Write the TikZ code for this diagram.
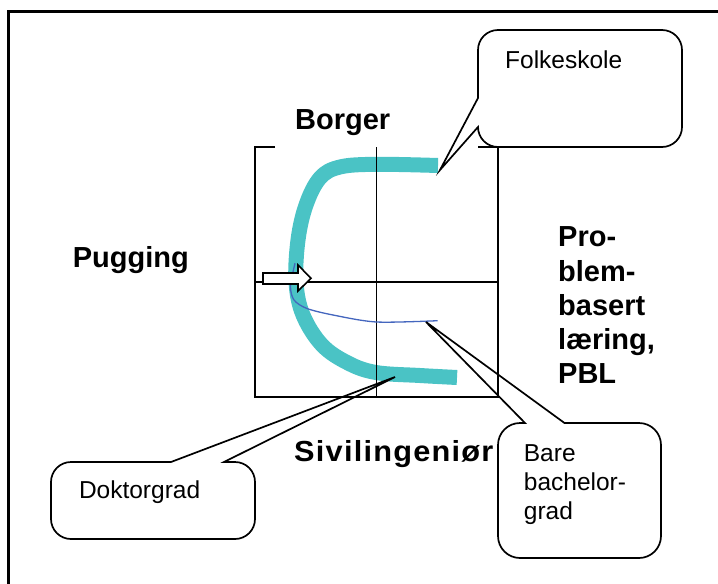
\documentclass[tikz,border=0pt]{standalone}
\usepackage{fontspec}
\setmainfont{Liberation Sans}
\definecolor{tealband}{RGB}{74,195,197}
\definecolor{thinblue}{RGB}{68,102,190}
\tikzset{
  grid line/.style={line width=1.9pt, black},
  balloon/.style={line width=1.7pt, black, line join=miter},
  big label/.style={font=\fontsize{29}{34.3}\selectfont\bfseries, inner sep=0pt, anchor=base west},
  small label/.style={font=\fontsize{24.5}{28.7}\selectfont, inner sep=0pt, anchor=base west},
}
\begin{document}
\begin{tikzpicture}[x=1pt,y=-1pt]
\useasboundingbox (0,0) rectangle (718,584);

% outer frame (only top and left edges fall inside the page)
\draw[line width=2.3pt] (8.5,584) -- (8.5,11.5) -- (718,11.5);

% thick teal band
\draw[tealband, line width=15pt, line cap=butt, line join=round]
  plot[smooth, tension=0.6] coordinates {(438,165.5) (376,164.3) (340,167) (320,178)
    (306,205) (298,240) (296,282) (303,315) (322,345) (348,363) (376,372.5)
    (420,375.5) (457,377.5)};

% quadrant box
\coordinate (q nw) at (255,147);
\coordinate (q ne) at (498,147);
\coordinate (q sw) at (255,397);
\coordinate (q se) at (498,397);
\draw[grid line] (275,147) -- (q nw) -- (q sw) -- (q se) -- (q ne) -- (478,147);
\draw[grid line] (376.5,147) -- (376.5,397);
\draw[grid line] (255,282) -- (498,282);

% thin blue curve
\draw[thinblue, line width=1.3pt]
  plot[smooth] coordinates {(295,263.3) (290.5,286) (294,300) (307,308.5)
    (333,315) (376.7,322) (437.7,320.7)};

% white block arrow
\draw[line width=1.6pt, fill=white, line join=miter]
  (263,273) -- (298,273) -- (298,265) -- (311,278.3) -- (298,291) -- (298,284)
  -- (263,284) -- cycle;

% axis labels (multi-line nodes are anchored on their last baseline)
\node[big label] (borger) at (295,129.3) {Borger};
\node[big label] (pugging) at (72.7,267) {Pugging};
\node[big label] (sivil) at (294,461)
  {\scalebox{1.06}[1]{\addfontfeature{LetterSpace=4}Sivilingeniør}};
\node[big label, align=left] (pbl) at (558,383.9) {Pro-\\blem-\\basert\\læring,\\PBL};

% callout: Folkeskole
\coordinate (folke tip) at (440,170);
\draw[balloon] (580,30) [rounded corners=20pt] -- (682,30) -- (682,147) -- (478,147)
  [sharp corners] -- (478,127) -- (folke tip) -- (478,98)
  [rounded corners=20pt] -- (478,30) -- cycle;
\node[small label] (folke) at (505,68.3) {Folkeskole};

% callout: Doktorgrad
\coordinate (dr tip) at (395,377);
\draw[balloon] (150,539) [rounded corners=20pt] -- (51,539) -- (51,462)
  [sharp corners] -- (171,462) -- (dr tip) -- (224,462)
  [rounded corners=20pt] -- (255,462) -- (255,539) -- cycle;
\node[small label] (dr) at (78.8,498) {Doktorgrad};

% callout: Bare bachelorgrad
\coordinate (ba tip) at (426,322);
\draw[balloon] (661,490) [rounded corners=22pt] -- (661,423)
  [sharp corners] -- (564.5,423) -- (ba tip) -- (525,423)
  [rounded corners=22pt] -- (498,423) -- (498,558) -- (661,558) -- cycle;
\node[small label, align=left] (ba) at (523.7,519.1) {Bare\\bachelor-\\grad};
\end{tikzpicture}
\end{document}
